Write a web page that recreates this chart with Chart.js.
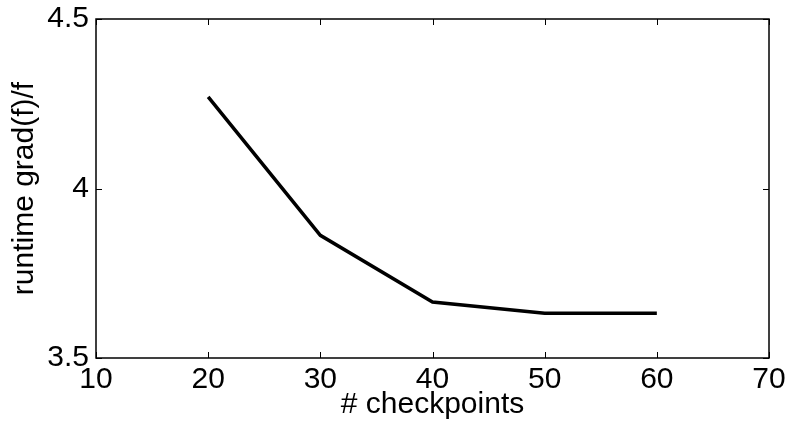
<!DOCTYPE html>
<html>
<head>
<meta charset="utf-8">
<script src="https://cdn.jsdelivr.net/npm/chart.js@4"></script>
<style>
  html, body { margin: 0; padding: 0; background: #fff; }
  #wrap { width: 787px; height: 425px; }
</style>
</head>
<body>
<div id="wrap"><canvas id="runtimeChart" width="787" height="425"></canvas></div>
<script>
const checkpoints = [20, 30, 40, 50, 60]
const runtimeRatio = [4.27, 3.862, 3.665, 3.632, 3.632]
const xTicks = [10, 20, 30, 40, 50, 60, 70]
const yTicks = [3.5, 4, 4.5]

const FONT = "'Liberation Sans', Arial, Helvetica, sans-serif"

// matlab style box with small inward ticks on all four sides
const boxTicks = {
  id: 'boxTicks',
  afterDraw(chart) {
    const ctx = chart.ctx
    const a = chart.chartArea
    const xs = chart.scales.x, ys = chart.scales.y
    const len = 6
    ctx.save()
    ctx.strokeStyle = '#000'
    ctx.lineWidth = 1
    ctx.beginPath()
    xTicks.forEach(v => {
      const px = Math.round(xs.getPixelForValue(v)) + 0.5
      ctx.moveTo(px, a.bottom); ctx.lineTo(px, a.bottom - len)
      ctx.moveTo(px, a.top); ctx.lineTo(px, a.top + len)
    })
    yTicks.forEach(v => {
      const py = Math.round(ys.getPixelForValue(v)) + 0.5
      ctx.moveTo(a.left, py); ctx.lineTo(a.left + len, py)
      ctx.moveTo(a.right, py); ctx.lineTo(a.right - len, py)
    })
    ctx.stroke()
    ctx.lineWidth = 1.5
    ctx.strokeRect(a.left, a.top, a.right - a.left, a.bottom - a.top)
    ctx.restore()
  }
}

const makeChart = () => {
  const points = checkpoints.map((c, i) => ({ x: c, y: runtimeRatio[i] }))
  var ctx = document.getElementById('runtimeChart').getContext('2d')
  return new Chart(ctx, {
    type: 'line',
    data: {
      datasets: [{
        data: points,
        borderColor: '#000',
        borderWidth: 3.5,
        pointRadius: 0,
        fill: false,
        tension: 0
      }]
    },
    options: {
      responsive: false,
      animation: false,
      layout: { padding: { left: 0, top: 19, right: 18, bottom: 0 } },
      plugins: { legend: { display: false }, tooltip: { enabled: false } },
      scales: {
        x: {
          type: 'linear',
          min: 10,
          max: 70,
          afterFit: s => { s.height = 67; s.paddingLeft = 0; s.paddingRight = 0 },
          afterBuildTicks: s => { s.ticks = xTicks.map(v => ({ value: v })) },
          grid: { display: false, drawTicks: false },
          border: { display: false },
          ticks: { color: '#000', padding: 4, font: { family: FONT, size: 30 }, maxRotation: 0, callback: v => String(v) },
          title: { display: true, text: '# checkpoints', color: '#000', padding: { top: 0, bottom: 2 }, font: { family: FONT, size: 30 } }
        },
        y: {
          min: 3.5,
          max: 4.5,
          afterFit: s => { s.width = 96; s.paddingTop = 0; s.paddingBottom = 0 },
          afterBuildTicks: s => { s.ticks = yTicks.map(v => ({ value: v })) },
          grid: { display: false, drawTicks: false },
          border: { display: false },
          ticks: { color: '#000', padding: 7, font: { family: FONT, size: 30 }, callback: v => String(v) },
          title: { display: true, text: 'runtime grad(f)/f', color: '#000', padding: { top: 7, bottom: 0 }, font: { family: FONT, size: 30 } }
        }
      }
    },
    plugins: [boxTicks]
  })
}

makeChart()
</script>
</body>
</html>
